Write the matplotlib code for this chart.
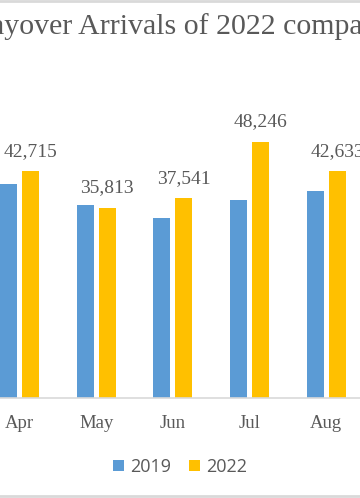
import matplotlib
matplotlib.use("Agg")
import matplotlib.pyplot as plt
from matplotlib.lines import Line2D
import numpy as np

months = ["Apr", "May", "Jun", "Jul", "Aug"]
arrivals_2019 = [40300, 36300, 33900, 37300, 38950]
arrivals_2022 = [42715, 35813, 37541, 48246, 42633]
labels_2022 = ["42,715", "35,813", "37,541", "48,246", "42,633"]

BLUE = "#5B9BD5"
GOLD = "#FFC000"
GREY_TXT = "#595959"
SERIF = "Liberation Serif"

fig = plt.figure(figsize=(3.6, 4.98), dpi=100)
ax = fig.add_axes([0, 100 / 498, 1, 297.6 / 498])

x = np.arange(len(months))
w = 0.222
off = 0.1434
ax.bar(x - off, arrivals_2019, w, color=BLUE, label="2019")
ax.bar(x + off, arrivals_2022, w, color=GOLD, label="2022")

for xi, v, lab in zip(x, arrivals_2022, labels_2022):
    ax.annotate(lab, (xi + off, v), xytext=(0, 8), textcoords="offset points",
                ha="center", va="bottom", fontsize=14, family=SERIF, color=GREY_TXT)

ax.set_xlim(-0.254, -0.254 + 360 / 76.7)
ax.set_ylim(0, 56000)
for s in ["top", "left", "right"]:
    ax.spines[s].set_visible(False)
ax.spines["bottom"].set_color("#D9D9D9")
ax.spines["bottom"].set_linewidth(1.2)
ax.set_yticks([])
ax.set_xticks(x)
ax.set_xticklabels(months, family=SERIF, fontsize=13.5, color=GREY_TXT)
ax.tick_params(axis="x", length=0, pad=12)

fig.legend(loc="center", bbox_to_anchor=(0.5, 1 - 467 / 498), ncol=2, frameon=False,
           prop={"family": "Open Sans", "size": 13}, labelcolor=GREY_TXT,
           handlelength=0.6, handleheight=0.6, handletextpad=0.35, columnspacing=1.0)

fig.text(-34 / 360, 1 - 34 / 498, "Stayover Arrivals of 2022 compared to 2019",
         ha="left", va="baseline", fontsize=21.5, family=SERIF, color=GREY_TXT)

# chart frame lines (top and bottom)
fig.add_artist(Line2D([0, 1], [1 - 1 / 498, 1 - 1 / 498], color="#D9D9D9", lw=2, transform=fig.transFigure))
fig.add_artist(Line2D([0, 1], [1 - 496 / 498, 1 - 496 / 498], color="#D9D9D9", lw=2, transform=fig.transFigure))

fig.savefig("out.png", dpi=100, facecolor="white")
